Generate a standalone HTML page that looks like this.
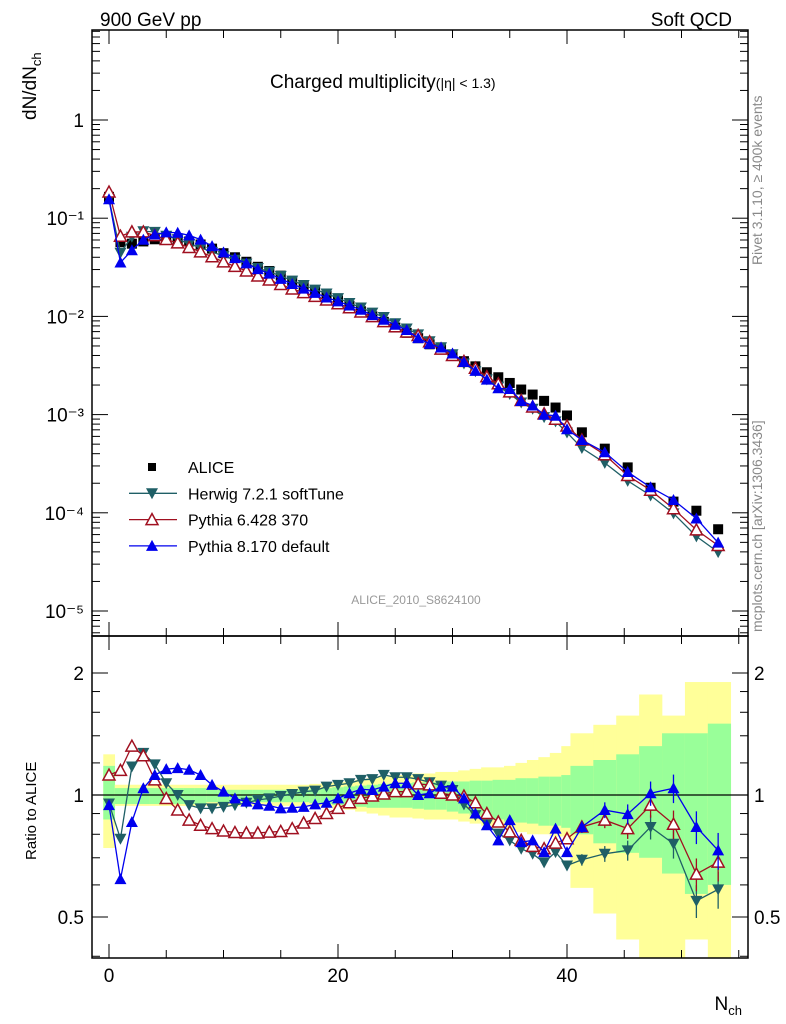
<!DOCTYPE html>
<html><head><meta charset="utf-8"><style>
body{margin:0;background:#fff}
svg{display:block;font-family:"Liberation Sans",sans-serif}
</style></head><body>
<svg id="c" width="786" height="1024" viewBox="0 0 786 1024">
<text x="100" y="26" font-size="19">900 GeV pp</text>
<text x="732" y="26" font-size="19" text-anchor="end">Soft QCD</text>
<text x="270" y="88" font-size="19">Charged multiplicity<tspan font-size="14">(|η| &lt; 1.3)</tspan></text>
<text transform="translate(36,120) rotate(-90)" font-size="19">dN/dN<tspan font-size="13" dy="5">ch</tspan></text>
<text transform="translate(36,860) rotate(-90)" font-size="15">Ratio to ALICE</text>
<text x="742" y="1010" font-size="19" text-anchor="end">N<tspan font-size="13" dy="5">ch</tspan></text>
<text transform="translate(762,265) rotate(-90)" font-size="14" fill="#888">Rivet 3.1.10, ≥ 400k events</text>
<text transform="translate(762,632) rotate(-90)" font-size="14" fill="#888">mcplots.cern.ch [arXiv:1306.3436]</text>
<text x="416" y="604" font-size="12" fill="#999" text-anchor="middle">ALICE_2010_S8624100</text>
<g id="bands"></g><g id="plots"></g><g id="axes"></g><g id="legend"></g>
</svg>
<script>
const nVals=[0,1,2,3,4,5,6,7,8,9,10,11,12,13,14,15,16,17,18,19,20,21,22,23,24,25,26,27,28,29,30,31,32,33,34,35,36,37,38,39,40,41.3,43.3,45.3,47.3,49.3,51.3,53.2];
const aliceVals=[0.165,0.057,0.055,0.058,0.061,0.062,0.061,0.058,0.054,0.049,0.044,0.040,0.036,0.032,0.029,0.026,0.023,0.0205,0.0183,0.0163,0.0145,0.0128,0.0113,0.0100,0.0088,0.0077,0.0068,0.0060,0.0052,0.0046,0.0040,0.0035,0.0031,0.0027,0.0024,0.0021,0.0018,0.0016,0.00138,0.00118,0.00098,0.00066,0.00045,0.00029,0.00018,0.00013,0.000105,0.000068];
const herwigRatio=[0.953,0.78,1.176,1.27,1.19,1.069,1.0,0.944,0.927,0.927,0.935,0.944,0.957,0.972,0.981,0.994,1.006,1.019,1.025,1.049,1.059,1.069,1.09,1.094,1.121,1.106,1.106,1.094,1.075,1.055,1.029,0.948,0.892,0.847,0.803,0.773,0.737,0.716,0.682,0.723,0.67,0.692,0.716,0.730,0.834,0.758,0.548,0.585];
const py6Ratio=[1.12,1.15,1.32,1.25,1.09,0.98,0.918,0.867,0.842,0.826,0.815,0.808,0.806,0.806,0.81,0.813,0.826,0.853,0.875,0.9,0.927,0.957,0.981,0.994,1.006,1.019,1.019,1.065,1.059,1.01,1.0,0.994,0.957,0.9,0.858,0.811,0.773,0.747,0.737,0.761,0.78,0.834,0.867,0.826,0.944,0.847,0.638,0.683];
const py8Ratio=[0.944,0.62,0.858,1.039,1.12,1.158,1.165,1.154,1.12,1.059,1.019,0.981,0.963,0.948,0.941,0.927,0.93,0.935,0.948,0.957,0.981,1.01,1.033,1.029,1.049,1.069,1.069,1.0,1.01,1.049,1.049,0.981,0.9,0.842,0.773,0.867,0.765,0.773,0.723,0.826,0.723,0.834,0.918,0.897,1.01,1.039,0.834,0.73];
const binLo=[-0.5,0.5,1.5,2.5,3.5,4.5,5.5,6.5,7.5,8.5,9.5,10.5,11.5,12.5,13.5,14.5,15.5,16.5,17.5,18.5,19.5,20.5,21.5,22.5,23.5,24.5,25.5,26.5,27.5,28.5,29.5,30.5,31.5,32.5,33.5,34.5,35.5,36.5,37.5,38.5,39.5,40.3,42.3,44.3,46.3,48.3,50.3,52.3];
const binHi=[0.5,1.5,2.5,3.5,4.5,5.5,6.5,7.5,8.5,9.5,10.5,11.5,12.5,13.5,14.5,15.5,16.5,17.5,18.5,19.5,20.5,21.5,22.5,23.5,24.5,25.5,26.5,27.5,28.5,29.5,30.5,31.5,32.5,33.5,34.5,35.5,36.5,37.5,38.5,39.5,40.3,42.3,44.3,46.3,48.3,50.3,52.3,54.3];
const totHi=[1.26,1.06,1.06,1.06,1.06,1.06,1.06,1.06,1.06,1.06,1.06,1.06,1.06,1.06,1.06,1.06,1.06,1.06,1.065,1.07,1.075,1.08,1.09,1.10,1.11,1.12,1.12,1.13,1.13,1.14,1.14,1.15,1.16,1.17,1.17,1.18,1.20,1.22,1.24,1.27,1.32,1.42,1.49,1.57,1.77,1.57,1.90,1.90];
const totLo=[0.74,0.94,0.94,0.94,0.94,0.94,0.94,0.94,0.94,0.94,0.94,0.94,0.94,0.94,0.94,0.94,0.94,0.94,0.935,0.93,0.925,0.92,0.91,0.90,0.89,0.88,0.88,0.875,0.87,0.87,0.87,0.86,0.85,0.84,0.83,0.82,0.81,0.80,0.80,0.79,0.79,0.59,0.51,0.44,0.35,0.35,0.44,0.35];
const statHi=[1.18,1.04,1.04,1.04,1.04,1.04,1.04,1.04,1.04,1.03,1.03,1.03,1.03,1.03,1.03,1.03,1.03,1.03,1.035,1.04,1.045,1.05,1.055,1.06,1.065,1.07,1.07,1.075,1.075,1.08,1.08,1.08,1.085,1.085,1.09,1.09,1.10,1.10,1.11,1.11,1.12,1.18,1.22,1.26,1.32,1.42,1.42,1.50];
const statLo=[0.87,0.95,0.95,0.95,0.95,0.95,0.95,0.95,0.95,0.96,0.96,0.96,0.96,0.96,0.96,0.96,0.96,0.96,0.955,0.95,0.945,0.94,0.935,0.93,0.93,0.93,0.93,0.925,0.92,0.92,0.91,0.90,0.89,0.88,0.87,0.86,0.855,0.85,0.84,0.84,0.83,0.80,0.76,0.72,0.70,0.64,0.57,0.60];
const mainTicks=["10⁻⁵","10⁻⁴","10⁻³","10⁻²","10⁻¹","1"];
const ratioTickLabels=["0.5","1","2"];
const xTickLabels=["0","20","40"];

const L=92,R=748,T=30,MB=636,RB=958;
const X=n=>109+(n)*11.45;
const YM=v=>120-98.2*Math.log10(v);
const YR=r=>795-122*Math.log2(r);
const NS="http://www.w3.org/2000/svg";
function mk(tag,at,parent){const e=document.createElementNS(NS,tag);for(const k in at)e.setAttribute(k,at[k]);parent.appendChild(e);return e;}
const svg=document.getElementById('c');
const bands=document.getElementById('bands'),plots=document.getElementById('plots'),axes=document.getElementById('axes'),leg=document.getElementById('legend');
const defs=mk('defs',{},svg);
const cp=mk('clipPath',{id:'cr'},defs);mk('rect',{x:L,y:MB,width:R-L,height:RB-MB},cp);
const cm=mk('clipPath',{id:'cm'},defs);mk('rect',{x:L,y:T,width:R-L,height:MB-T},cm);
bands.setAttribute('clip-path','url(#cr)');
for(let i=0;i<nVals.length;i++){
 const y1=mk('rect',{x:X(binLo[i]),y:YR(totHi[i]),width:X(binHi[i])-X(binLo[i])+0.3,height:YR(totLo[i])-YR(totHi[i]),fill:'#ffff99'},bands);
 
 
 const g1=mk('rect',{x:X(binLo[i]),y:YR(statHi[i]),width:X(binHi[i])-X(binLo[i])+0.3,height:YR(statLo[i])-YR(statHi[i]),fill:'#99ff99'},bands);
 
 
}
const one=mk('line',{x1:L,x2:R,y1:YR(1),y2:YR(1),stroke:'#000','stroke-width':1.2},bands);



function marker(type,x,y,col,g){
 let e;
 if(type==='sq'){e=mk('rect',{x:x-5,y:y-5,width:10,height:10,fill:'#000'},g);}
 else if(type==='down'){e=mk('polygon',{points:`${x-6},${y-5} ${x+6},${y-5} ${x},${y+6}`,fill:col},g);}
 else if(type==='openup'){e=mk('polygon',{points:`${x-6},${y+5} ${x+6},${y+5} ${x},${y-6}`,fill:'#fff',stroke:col,'stroke-width':1.5},g);}
 else {e=mk('polygon',{points:`${x-6},${y+5} ${x+6},${y+5} ${x},${y-6}`,fill:col},g);}
 return e;
}
const series=[
 {name:'herwig',r:herwigRatio,col:'#1f5f66',m:'down'},
 {name:'pythia6',r:py6Ratio,col:'#a01020',m:'openup'},
 {name:'pythia8',r:py8Ratio,col:'#0000ee',m:'up'}];
const gm=mk('g',{'clip-path':'url(#cm)'},plots);
const ga=mk('g',{},gm);
for(let i=0;i<nVals.length;i++){
 const p=marker('sq',X(nVals[i]),YM(aliceVals[i]),'#000',ga);
 
 
}
series.forEach(s=>{
 const g=mk('g',{},gm);
 const pts=nVals.map((n,i)=>`${X(n)},${YM(aliceVals[i]*s.r[i])}`).join(' ');
 const pl=mk('polyline',{points:pts,fill:'none',stroke:s.col,'stroke-width':1.3},g);
 
 
 nVals.forEach((n,i)=>{const p=marker(s.m,X(n),YM(aliceVals[i]*s.r[i]),s.col,g);
 
 });
});
const gr=mk('g',{'clip-path':'url(#cr)'},plots);
series.forEach(s=>{
 const g=mk('g',{},gr);
 const pts=nVals.map((n,i)=>`${X(n)},${YR(s.r[i])}`).join(' ');
 const pl=mk('polyline',{points:pts,fill:'none',stroke:s.col,'stroke-width':1.3},g);
 
 
 nVals.forEach((n,i)=>{
  if(n>40){const e=0.025+0.012*(n-40)/2;mk('line',{x1:X(n),x2:X(n),y1:YR(s.r[i]*(1+e)),y2:YR(s.r[i]*(1-e)),stroke:s.col,'stroke-width':1.3},g);}
  const p=marker(s.m,X(n),YR(s.r[i]),s.col,g);
  
  });
});
[[T,MB],[MB,RB]].forEach(([a,b])=>mk('rect',{x:L,y:a,width:R-L,height:b-a,fill:'none',stroke:'#000','stroke-width':1.5},axes));
for(let n=0;n<=55;n+=5){const maj=n%20===0;const len=maj?14:8;
 [[T,1],[MB,1],[MB,-1],[RB,-1]].forEach(([y,d])=>mk('line',{x1:X(n),x2:X(n),y1:y,y2:y+d*len,stroke:'#000','stroke-width':1},axes));}
xTickLabels.forEach(t=>{const e=mk('text',{x:X(+t),y:982,'font-size':19,'text-anchor':'middle'},axes);e.textContent=t;
 
 });
for(let d=-6;d<=0;d++){for(let k=1;k<=9;k++){const v=k*Math.pow(10,d);const y=YM(v);if(y<T||y>MB)continue;const len=k===1?16:8;
 mk('line',{x1:L,x2:L+len,y1:y,y2:y,stroke:'#000'},axes);mk('line',{x1:R,x2:R-len,y1:y,y2:y,stroke:'#000'},axes);}}
mainTicks.forEach((t,i)=>{const e=mk('text',{x:84,y:YM(Math.pow(10,i-5))+7,'font-size':19,'text-anchor':'end'},axes);e.textContent=t;
 
 });
[0.4,0.5,0.6,0.7,0.8,0.9,1,1.2,1.4,1.6,1.8,2].forEach(v=>{const y=YR(v);const maj=(v===0.5||v===1||v===2);const len=maj?16:8;
 mk('line',{x1:L,x2:L+len,y1:y,y2:y,stroke:'#000'},axes);mk('line',{x1:R,x2:R-len,y1:y,y2:y,stroke:'#000'},axes);});
ratioTickLabels.forEach(t=>{[84,754].forEach(x=>{const e=mk('text',{x:x,y:YR(+t)+7,'font-size':19,'text-anchor':x<100?'end':'start'},axes);e.textContent=t;
 
 });});
const legItems=[['sq','#000','ALICE'],['down','#1f5f66','Herwig 7.2.1 softTune'],['openup','#a01020','Pythia 6.428 370'],['up','#0000ee','Pythia 8.170 default']];
legItems.forEach((it,i)=>{const y=467+i*26.3;const g=mk('g',{},leg);
 
 
 if(i>0)mk('line',{x1:129,x2:177,y1:y,y2:y,stroke:it[1],'stroke-width':1.3},g);
 if(i===0)mk('rect',{x:148,y:y-4,width:8,height:8,fill:'#000'},g);else marker(it[0],152,y,it[1],g);
 const t=mk('text',{x:188,y:y+6,'font-size':16},g);t.textContent=it[2];});
</script>
</body></html>
